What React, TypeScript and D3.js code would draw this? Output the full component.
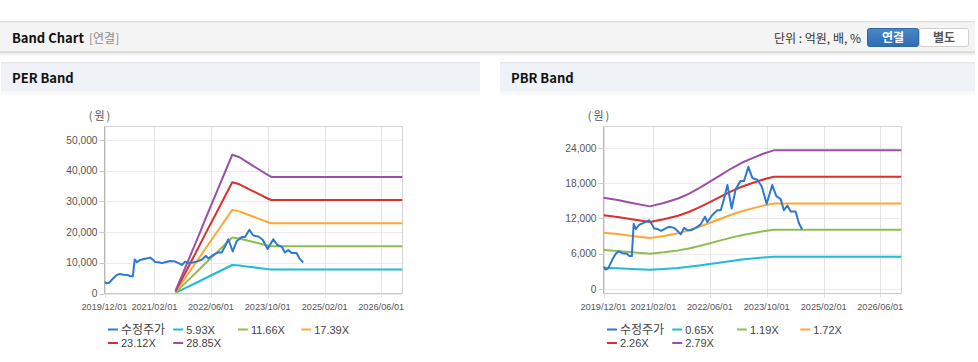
import React from "react";
import * as d3 from "d3";

// ---------- data ----------
const xTickLabels = ["2019/12/01", "2021/02/01", "2022/06/01", "2023/10/01", "2025/02/01", "2026/06/01"];
const xDomainDates = ["2019-12-01", "2026-12-01"];

const priceDates = [
  "2019-12-01", "2019-12-20", "2020-01-10", "2020-02-15", "2020-03-15", "2020-04-10", "2020-05-10",
  "2020-06-20", "2020-07-10", "2020-07-31", "2020-08-16", "2020-09-03", "2020-10-02", "2020-11-14",
  "2020-12-27", "2021-01-20", "2021-02-08", "2021-03-10", "2021-04-07", "2021-05-05", "2021-06-17",
  "2021-07-30", "2021-09-01", "2021-09-24", "2021-10-23", "2021-11-21", "2021-12-19", "2022-01-31",
  "2022-03-14", "2022-04-20", "2022-05-10", "2022-06-22", "2022-08-04", "2022-09-02", "2022-09-30",
  "2022-10-29", "2022-12-05", "2023-01-08", "2023-02-20", "2023-03-21", "2023-04-27", "2023-05-31",
  "2023-07-13", "2023-08-19", "2023-10-01", "2023-11-18", "2023-12-23", "2024-01-29", "2024-02-26",
  "2024-03-26", "2024-04-24", "2024-06-05", "2024-07-04", "2024-08-01",
];
const priceValues = [
  3800, 3300, 3500, 5000, 6000, 6400, 6100,
  6000, 5600, 5600, 11100, 10200, 10900, 11300,
  11700, 11000, 10300, 10200, 9900, 10200, 10600,
  10400, 9800, 9300, 10400, 10000, 10000, 10400,
  11000, 12300, 11400, 12600, 13400, 13400, 15300,
  17700, 13700, 17000, 18400, 18400, 20800, 18900,
  18600, 17500, 14500, 17700, 15800, 15300, 13400,
  14200, 13200, 13200, 11200, 10100,
];

const perEpsDates = [
  "2021-08-01", "2021-11-01", "2022-02-01", "2022-05-01", "2022-08-01", "2022-12-01",
  "2023-02-01", "2023-04-01", "2023-06-01", "2023-08-01", "2023-10-01", "2023-11-01", "2026-12-01",
];
const perEpsValues = [30, 318, 606, 894, 1182, 1568, 1540, 1490, 1440, 1390, 1340, 1318, 1318];
const perMultiples = [5.93, 11.66, 17.39, 23.12, 28.85];
const perLabels = ["수정주가", "5.93X", "11.66X", "17.39X", "23.12X", "28.85X"];
const perYTicks = [0, 10000, 20000, 30000, 40000, 50000];

const pbrBpsDates = [
  "2019-12-01", "2020-04-01", "2020-08-01", "2021-01-01", "2021-05-01", "2021-09-01", "2021-12-01",
  "2022-03-01", "2022-06-01", "2022-09-01", "2022-12-01", "2023-03-01", "2023-06-01", "2023-09-01",
  "2023-12-01", "2026-12-01",
];
const pbrBpsValues = [
  5560, 5430, 5250, 5040, 5250, 5520, 5800,
  6150, 6550, 6950, 7350, 7700, 7980, 8250,
  8460, 8460,
];
const pbrMultiples = [0.65, 1.19, 1.72, 2.26, 2.79];
const pbrLabels = ["수정주가", "0.65X", "1.19X", "1.72X", "2.26X", "2.79X"];
const pbrYTicks = [0, 6000, 12000, 18000, 24000];

const seriesColors = ["#2f78d2", "#1fbdd0", "#8fbd52", "#ffa733", "#d9302b", "#9c4fa8"];

// ---------- helpers ----------
const LFONT = "'Liberation Sans', Arial, sans-serif";
const KFONT = "'Noto Sans CJK KR', 'Noto Sans', sans-serif";
const parse = (s: string) => new Date(s + "T00:00:00");

type ChartProps = {
  left: number; right: number; top: number; bottom: number;
  yDomain: [number, number]; yTicks: number[];
  baseDates: string[]; baseValues: number[]; multiples: number[]; labels: string[];
};

function BandChart(p: ChartProps) {
  const x = d3.scaleTime().domain(xDomainDates.map(parse)).range([p.left, p.right]);
  const y = d3.scaleLinear().domain(p.yDomain).range([p.bottom, p.top]);
  const line = d3.line<[Date, number]>().x((d) => x(d[0])).y((d) => y(d[1]));
  const fmt = d3.format(",");
  const priceData: [Date, number][] = priceDates.map((d, i) => [parse(d), priceValues[i]]);
  const bands = p.multiples.map((m) =>
    p.baseDates.map((d, i) => [parse(d), p.baseValues[i] * m] as [Date, number])
  );
  const xTicks = xTickLabels.map((s) => parse(s.replace(/\//g, "-")));
  const legendCols = [3.4, 68.7, 133.4, 196.7];
  const legendRows = [329.5, 343];
  const clipId = "clip" + Math.round(p.left);
  return (
    <g>
      <defs>
        <clipPath id={clipId}>
          <rect x={p.left} y={p.top} width={p.right - p.left} height={p.bottom - p.top} />
        </clipPath>
      </defs>
      {/* grid */}
      {p.yTicks.map((t) => (
        <line key={"gy" + t} x1={p.left} x2={p.right} y1={Math.round(y(t)) + 0.5} y2={Math.round(y(t)) + 0.5} stroke="#ebebeb" />
      ))}
      {xTicks.map((t, i) => (
        <line key={"gx" + i} x1={Math.round(x(t)) + 0.5} x2={Math.round(x(t)) + 0.5} y1={p.top} y2={p.bottom + 4} stroke="#e3e3e3" />
      ))}
      <rect x={p.left} y={p.top} width={p.right - p.left} height={p.bottom - p.top} fill="none" stroke="#d6d6d6" />
      <line x1={p.left} x2={p.left} y1={p.top} y2={p.bottom} stroke="#b8b8b8" />
      <line x1={p.left} x2={p.right} y1={p.bottom} y2={p.bottom} stroke="#c8c8c8" />
      {p.yTicks.map((t) => (
        <g key={"ty" + t}>
          <line x1={p.left - 5} x2={p.left} y1={Math.round(y(t)) + 0.5} y2={Math.round(y(t)) + 0.5} stroke="#c8c8c8" />
          <text x={p.left - 7} y={y(t) + 3.6} textAnchor="end" fontSize={10.2} fill="#555" fontFamily={LFONT}>
            {fmt(t)}
          </text>
        </g>
      ))}
      {xTicks.map((t, i) => (
        <text key={"tx" + i} x={x(t)} y={309.5} textAnchor="middle" fontSize={9.2} fill="#555" fontFamily={LFONT}>
          {xTickLabels[i]}
        </text>
      ))}
      <text x={p.left - 4} y={120} textAnchor="middle" fontSize={11} fill="#555" fontFamily={KFONT} letterSpacing={2}>
        (원)
      </text>
      {/* series */}
      <g clipPath={`url(#${clipId})`} fill="none" strokeWidth={2} strokeLinejoin="round">
        {bands.map((b, i) => (
          <path key={"b" + i} d={line(b) || ""} stroke={seriesColors[i + 1]} />
        ))}
        <path d={line(priceData) || ""} stroke={seriesColors[0]} />
      </g>
      {/* legend */}
      {p.labels.map((lab, i) => {
        const row = i < 4 ? 0 : 1;
        const col = i < 4 ? i : i - 4;
        const lx = p.left + legendCols[col];
        const ly = legendRows[row];
        const korean = i === 0;
        return (
          <g key={"lg" + i}>
            <line x1={lx} x2={lx + 10} y1={ly} y2={ly} stroke={seriesColors[i]} strokeWidth={2} />
            <text x={lx + 13} y={ly + (korean ? 4.5 : 4)} fontSize={korean ? 12 : 11} fill="#444" fontFamily={korean ? KFONT : LFONT}>
              {lab}
            </text>
          </g>
        );
      })}
    </g>
  );
}

export default function App() {
  return (
    <svg width={978} height={362} style={{ position: "absolute", left: 0, top: 0, display: "block" }} xmlns="http://www.w3.org/2000/svg">
      <defs>
        <linearGradient id="shadowGrad" x1="0" y1="0" x2="0" y2="1">
          <stop offset="0" stopColor="#d4d4d4" />
          <stop offset="1" stopColor="#ffffff" stopOpacity={0} />
        </linearGradient>
        <linearGradient id="panelGrad" x1="0" y1="0" x2="0" y2="1">
          <stop offset="0" stopColor="#f6f6f6" />
          <stop offset="1" stopColor="#ffffff" />
        </linearGradient>
        <linearGradient id="btnGrad" x1="0" y1="0" x2="0" y2="1">
          <stop offset="0" stopColor="#4a88c8" />
          <stop offset="1" stopColor="#2d6cb2" />
        </linearGradient>
      </defs>
      <rect x={0} y={0} width={978} height={362} fill="#fff" />
      {/* top bar */}
      <rect x={0} y={52} width={975} height={5} fill="url(#shadowGrad)" />
      <rect x={0} y={21} width={975} height={31} fill="#f4f4f4" />
      <rect x={0} y={21} width={975} height={1.5} fill="#e2e2e2" />
      <rect x={0} y={51} width={975} height={1} fill="#dedede" />
      <text x={12} y={43} fontSize={13} fontWeight="bold" fill="#111" fontFamily={KFONT}>Band Chart</text>
      <text x={89} y={43} fontSize={12} fill="#8b8b8b" fontFamily={KFONT}>[연결]</text>
      <text x={861} y={42.5} textAnchor="end" fontSize={12} fill="#333" fontFamily={KFONT}>단위 : 억원, 배, %</text>
      <rect x={867.5} y={28.5} width={51} height={18} rx={2} fill="url(#btnGrad)" stroke="#2c67a6" />
      <rect x={919.5} y={28.5} width={49} height={18} rx={2} fill="#fff" stroke="#cfcfcf" />
      <text x={893} y={42} textAnchor="middle" fontSize={12} fontWeight="bold" fill="#fff" fontFamily={KFONT}>연결</text>
      <text x={944} y={42} textAnchor="middle" fontSize={12} fontWeight="bold" fill="#555" fontFamily={KFONT}>별도</text>
      {/* panel headers */}
      <rect x={1} y={62} width={479} height={29} fill="#eff2f7" />
      <rect x={1} y={62} width={479} height={1.5} fill="#e4e7eb" />
      <rect x={1} y={91} width={479} height={6} fill="url(#panelGrad)" />
      <text x={12} y={83} fontSize={13} fontWeight="bold" fill="#111" fontFamily={KFONT}>PER Band</text>
      <rect x={500} y={62} width={475} height={29} fill="#eff2f7" />
      <rect x={500} y={62} width={475} height={1.5} fill="#e4e7eb" />
      <rect x={500} y={91} width={475} height={6} fill="url(#panelGrad)" />
      <text x={511} y={83} fontSize={13} fontWeight="bold" fill="#111" fontFamily={KFONT}>PBR Band</text>
      <BandChart
        left={104.5} right={402.5} top={126.5} bottom={293.5}
        yDomain={[0, 54450]} yTicks={perYTicks}
        baseDates={perEpsDates} baseValues={perEpsValues} multiples={perMultiples} labels={perLabels}
      />
      <BandChart
        left={603.5} right={901.5} top={126.5} bottom={293.5}
        yDomain={[-770, 27660]} yTicks={pbrYTicks}
        baseDates={pbrBpsDates} baseValues={pbrBpsValues} multiples={pbrMultiples} labels={pbrLabels}
      />
    </svg>
  );
}
